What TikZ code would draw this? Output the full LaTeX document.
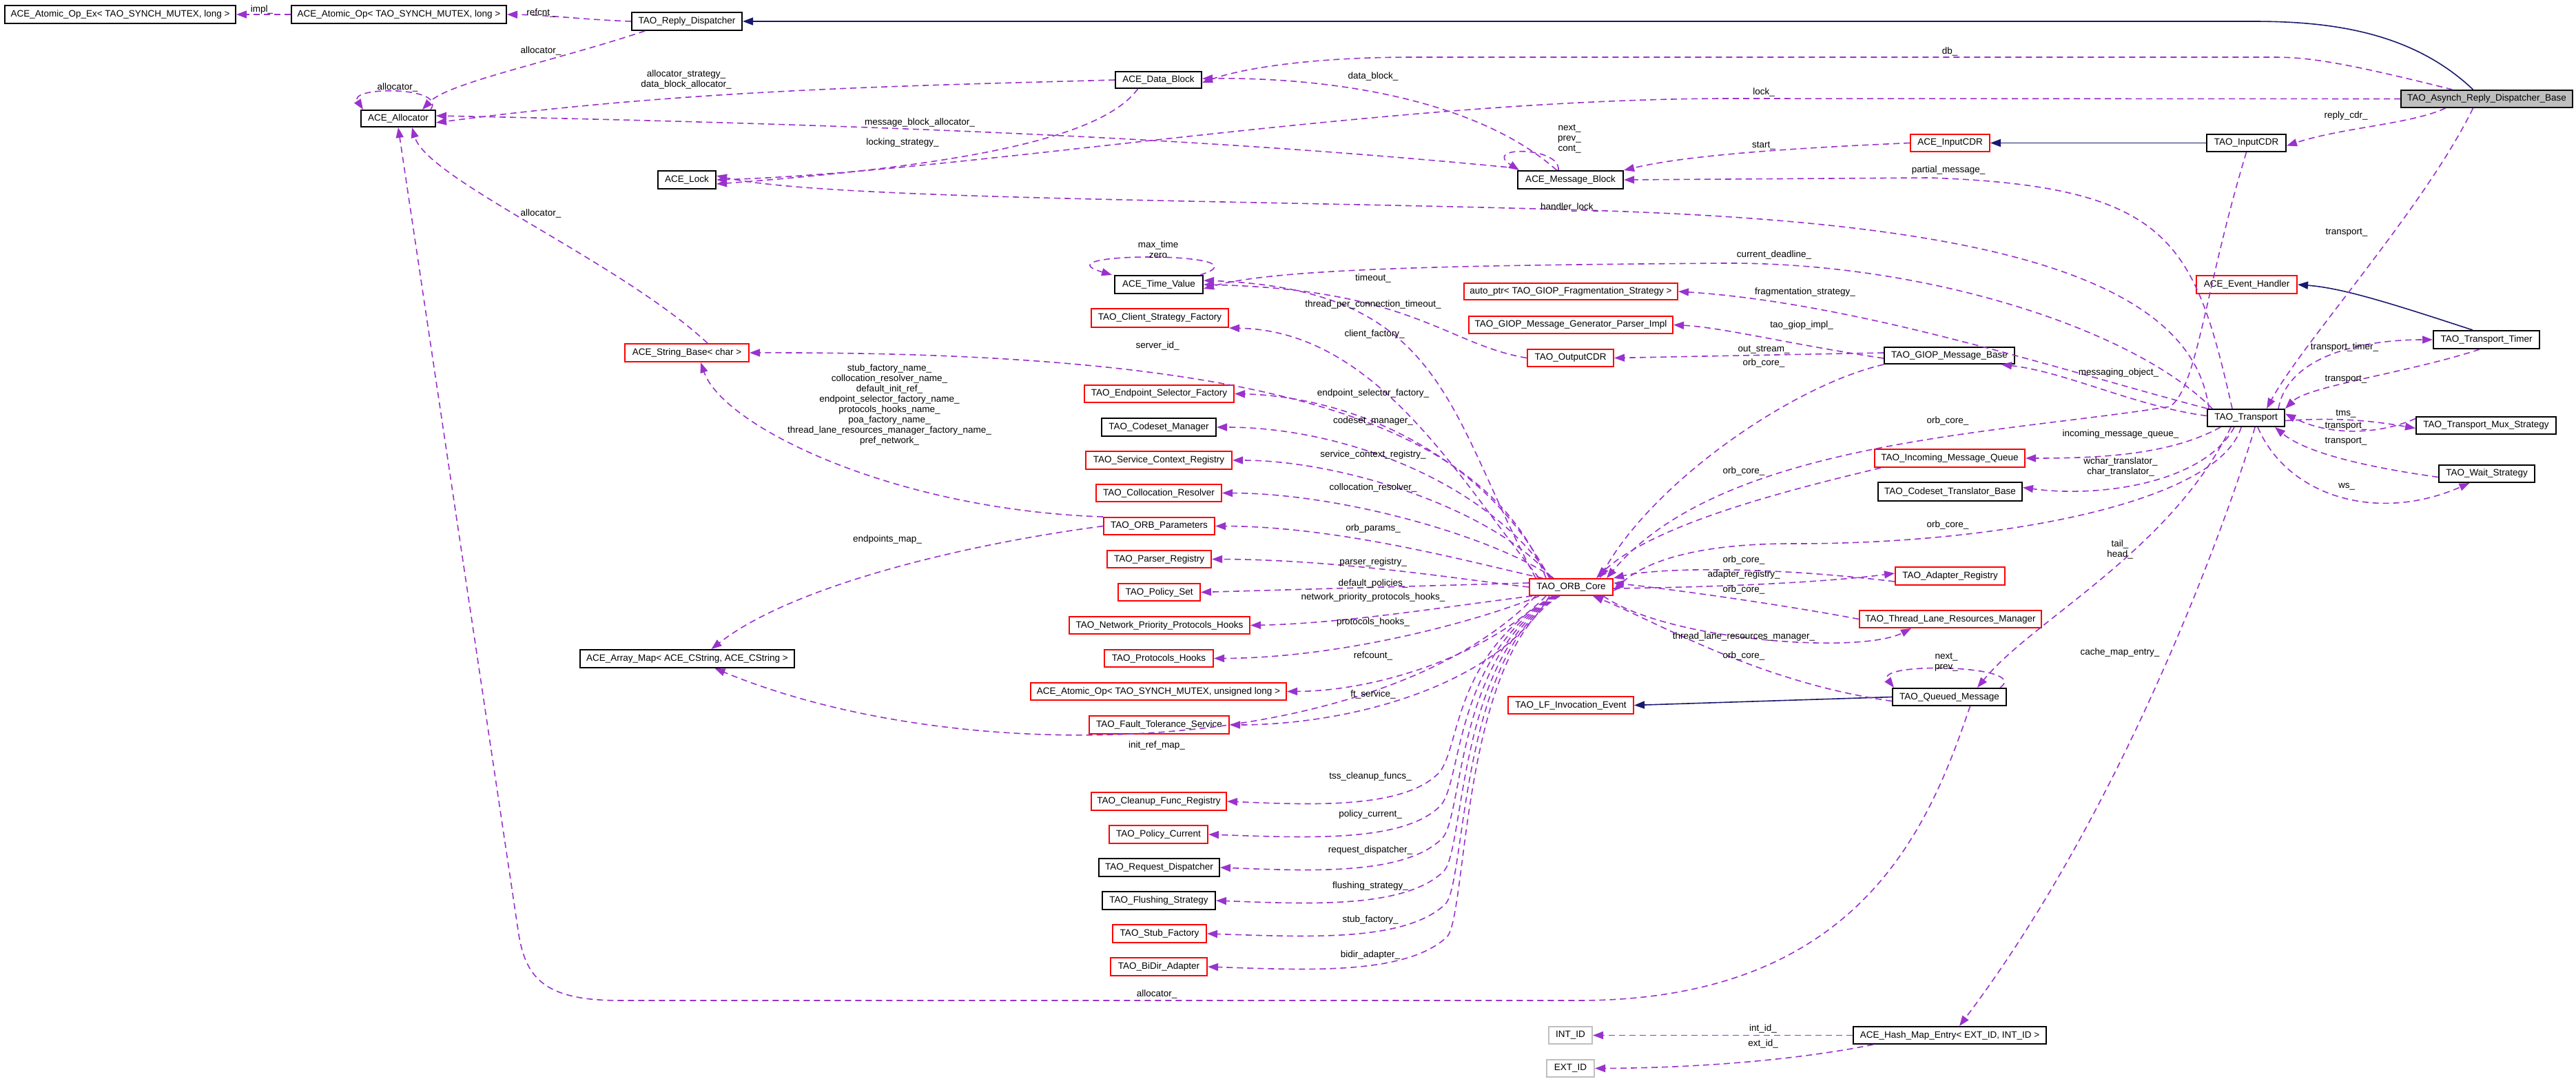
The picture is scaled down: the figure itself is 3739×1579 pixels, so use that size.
\documentclass[tikz,border=0pt]{standalone}
\usepackage{fontspec}
\setmainfont{Liberation Sans}
\usetikzlibrary{arrows.meta}
\definecolor{dorch}{HTML}{9A32CD}
\definecolor{navy}{HTML}{191970}
\definecolor{gbox}{HTML}{BFBFBF}
\newcommand{\ff}{\fontsize{13.5}{15}\selectfont}
\newcommand{\bx}[7]{\node[#1, minimum width={(#5-#3)*1pt}, minimum height={(#6-#4)*1pt}] (#2) at ({(#3+#5)/2},{(#4+#6)/2}) {#7};}
\newcommand{\lb}[4]{\node[lbl] (#1) at (#2,#3) {#4};}
\tikzset{
 cls/.style={draw=black, line width=2pt, inner sep=0pt, font=\ff},
 rcls/.style={cls, draw=red},
 gcls/.style={cls, draw=gbox},
 hcls/.style={cls, fill=gbox},
 lbl/.style={font=\ff, inner sep=0pt, align=center},
 mem/.style={draw=dorch, line width=1.6pt, dash pattern=on 9pt off 6pt, -{Triangle[length=15pt,width=11pt]}},
 inh/.style={draw=navy, line width=1.6pt, -{Triangle[length=15pt,width=11pt]}}
}
\begin{document}
\begin{tikzpicture}[x=1pt,y=-1pt]
\useasboundingbox (0,0) rectangle (3739,1579);
% boxes
\bx{cls}{ope}{7}{8}{342}{34}{ACE\_Atomic\_Op\_Ex< TAO\_SYNCH\_MUTEX, long >}
\bx{cls}{aop}{423}{8}{735}{34}{ACE\_Atomic\_Op< TAO\_SYNCH\_MUTEX, long >}
\bx{cls}{rd}{917}{18}{1077}{44}{TAO\_Reply\_Dispatcher}
\bx{cls}{alloc}{524}{160}{632}{184}{ACE\_Allocator}
\bx{cls}{lock}{955}{248}{1039}{274}{ACE\_Lock}
\bx{rcls}{sb}{907}{499}{1087}{525}{ACE\_String\_Base< char >}
\bx{cls}{db}{1619}{104}{1744}{128}{ACE\_Data\_Block}
\bx{cls}{mb}{2203}{248}{2356}{274}{ACE\_Message\_Block}
\bx{cls}{tv}{1618}{400}{1746}{426}{ACE\_Time\_Value}
\bx{rcls}{csf}{1584}{448}{1783}{475}{TAO\_Client\_Strategy\_Factory}
\bx{rcls}{ap}{2125}{411}{2435}{435}{auto\_ptr< TAO\_GIOP\_Fragmentation\_Strategy >}
\bx{rcls}{mgpi}{2132}{459}{2428}{484}{TAO\_GIOP\_Message\_Generator\_Parser\_Impl}
\bx{rcls}{ocdr}{2217}{507}{2342}{532}{TAO\_OutputCDR}
\bx{hcls}{arb}{3485}{131}{3734}{156}{TAO\_Asynch\_Reply\_Dispatcher\_Base}
\bx{rcls}{aicdr}{2773}{195}{2888}{220}{ACE\_InputCDR}
\bx{cls}{ticdr}{3203}{195}{3318}{220}{TAO\_InputCDR}
\bx{rcls}{eh}{3188}{400}{3334}{426}{ACE\_Event\_Handler}
\bx{cls}{tt}{3532}{480}{3686}{506}{TAO\_Transport\_Timer}
\bx{cls}{gmb}{2735}{504}{2924}{528}{TAO\_GIOP\_Message\_Base}
\bx{cls}{tr}{3204}{594}{3316}{619}{TAO\_Transport}
\bx{cls}{mux}{3507}{605}{3710}{630}{TAO\_Transport\_Mux\_Strategy}
\bx{rcls}{imq}{2721}{652}{2939}{678}{TAO\_Incoming\_Message\_Queue}
\bx{cls}{ctb}{2726}{700}{2935}{727}{TAO\_Codeset\_Translator\_Base}
\bx{cls}{ws}{3540}{675}{3679}{700}{TAO\_Wait\_Strategy}
\bx{rcls}{ar}{2751}{823}{2910}{849}{TAO\_Adapter\_Registry}
\bx{rcls}{tlrm}{2699}{886}{2963}{911}{TAO\_Thread\_Lane\_Resources\_Manager}
\bx{cls}{qm}{2747}{999}{2912}{1024}{TAO\_Queued\_Message}
\bx{rcls}{esf}{1574}{559}{1791}{584}{TAO\_Endpoint\_Selector\_Factory}
\bx{cls}{cm}{1599}{607}{1765}{633}{TAO\_Codeset\_Manager}
\bx{rcls}{scr}{1576}{655}{1788}{681}{TAO\_Service\_Context\_Registry}
\bx{rcls}{cr}{1591}{703}{1773}{728}{TAO\_Collocation\_Resolver}
\bx{rcls}{op}{1602}{751}{1763}{776}{TAO\_ORB\_Parameters}
\bx{rcls}{pr}{1607}{799}{1758}{824}{TAO\_Parser\_Registry}
\bx{rcls}{ps}{1623}{847}{1742}{872}{TAO\_Policy\_Set}
\bx{rcls}{npph}{1552}{895}{1814}{920}{TAO\_Network\_Priority\_Protocols\_Hooks}
\bx{rcls}{ph}{1603}{943}{1761}{968}{TAO\_Protocols\_Hooks}
\bx{rcls}{aoul}{1496}{991}{1867}{1016}{ACE\_Atomic\_Op< TAO\_SYNCH\_MUTEX, unsigned long >}
\bx{rcls}{fts}{1581}{1039}{1784}{1065}{TAO\_Fault\_Tolerance\_Service}
\bx{rcls}{orb}{2220}{840}{2341}{864}{TAO\_ORB\_Core}
\bx{rcls}{lf}{2189}{1011}{2371}{1036}{TAO\_LF\_Invocation\_Event}
\bx{cls}{am}{842}{943}{1153}{969}{ACE\_Array\_Map< ACE\_CString, ACE\_CString >}
\bx{rcls}{cfr}{1584}{1150}{1780}{1176}{TAO\_Cleanup\_Func\_Registry}
\bx{rcls}{pc}{1610}{1198}{1753}{1224}{TAO\_Policy\_Current}
\bx{cls}{rqd}{1595}{1246}{1770}{1272}{TAO\_Request\_Dispatcher}
\bx{cls}{fs}{1600}{1294}{1764}{1320}{TAO\_Flushing\_Strategy}
\bx{rcls}{sf}{1615}{1342}{1751}{1368}{TAO\_Stub\_Factory}
\bx{rcls}{bda}{1612}{1390}{1752}{1416}{TAO\_BiDir\_Adapter}
\bx{gcls}{intid}{2248}{1490}{2311}{1515}{INT\_ID}
\bx{gcls}{extid}{2245}{1538}{2314}{1563}{EXT\_ID}
\bx{cls}{hme}{2690}{1490}{2970}{1515}{ACE\_Hash\_Map\_Entry< EXT\_ID, INT\_ID >}
% inheritance
\draw[inh] ([xshift=-20]arb.north) .. controls (3500,45) and (3380,31) .. (3270,31) -- (rd.east);
\draw[inh] (ticdr.west) -- (aicdr.east);
\draw[inh] ([xshift=-20]tt.north) .. controls (3470,440) and (3400,418) .. (eh.east);
\draw[inh] (qm.west) -- (lf.east);
% members
\draw[mem] (aop.west) -- (ope.east);
\draw[mem] (rd.west) .. controls (840,28) and (800,22) .. (aop.east);
\draw[mem] ([xshift=20]rd.south west) .. controls (800,90) and (650,120) .. ([xshift=-20]alloc.north east);
\draw[mem] ([xshift=-8]alloc.north east) .. controls (650,125) and (505,125) .. ([xshift=4]alloc.north west);
\draw[mem] (db.west) .. controls (1300,125) and (1000,130) .. ([yshift=-6]alloc.east);
\draw[mem] ([yshift=3]mb.north west) .. controls (1900,215) and (1500,185) .. ([yshift=4]alloc.east);
\draw[mem] ([xshift=-30]db.south) .. controls (1600,200) and (1400,240) .. ([yshift=-6]lock.east);
\draw[mem] (arb.west) -- (2500,143) .. controls (2000,145) and (1400,250) .. (lock.east);
\draw[mem] ([xshift=3]tr.north west) .. controls (3180,380) and (2800,320) .. (2300,305) .. controls (1800,290) and (1200,290) .. ([yshift=6]lock.east);
\draw[mem] ([xshift=30]sb.north) .. controls (900,380) and (620,260) .. ([xshift=20]alloc.south);
\draw[mem] ([xshift=30]qm.south) .. controls (2800,1200) and (2700,1452) .. (2290,1452) -- (900,1452) .. controls (790,1452) and (762,1420) .. (752,1350) -- (alloc.south);
\draw[mem] ([xshift=-50]arb.north) .. controls (3400,90) and (3350,83) .. (3300,83) -- (2050,83) .. controls (1900,83) and (1800,100) .. ([yshift=-4]db.east);
\draw[mem] ([xshift=-20]mb.north) .. controls (2150,150) and (1950,112) .. ([yshift=2]db.east);
\draw[mem] ([xshift=60]mb.north west) .. controls (2265,212) and (2150,212) .. ([xshift=3]mb.north west);
\draw[mem] (aicdr.west) .. controls (2600,215) and (2450,225) .. (mb.north east);
\draw[mem] ([xshift=-20]tr.north) .. controls (3185,350) and (3150,270) .. (2800,258) -- (mb.east);
\draw[mem] ([xshift=-60]arb.south) .. controls (3500,180) and (3400,185) .. ([yshift=-4]ticdr.east);
\draw[mem] ([xshift=-20]arb.south) .. controls (3520,300) and (3340,500) .. ([xshift=30]tr.north);
\draw[mem] ([xshift=-5]tv.north east) .. controls (1850,365) and (1500,365) .. ([xshift=-3]tv.north west);
\draw[mem] ([xshift=8]tr.north west) .. controls (3100,480) and (2800,380) .. (2500,382) .. controls (2100,385) and (1850,390) .. ([yshift=-6]tv.east);
\draw[mem] (ocdr.west) .. controls (2100,500) and (2050,420) .. (tv.east);
\draw[mem] ([xshift=10]orb.north west) .. controls (2100,600) and (2100,420) .. ([yshift=6]tv.east);
\draw[mem] ([xshift=15]orb.north west) .. controls (2120,700) and (2000,480) .. (csf.south east);
\draw[mem] ([xshift=1]tr.north west) .. controls (3000,540) and (2700,440) .. (ap.east);
\draw[mem] ([yshift=-4]gmb.west) .. controls (2600,500) and (2500,475) .. (mgpi.east);
\draw[mem] ([yshift=4]gmb.west) -- (ocdr.east);
\draw[mem] (gmb.south west) .. controls (2600,560) and (2400,700) .. ([xshift=-20]orb.north east);
\draw[mem] ([xshift=25]orb.north west) .. controls (2150,600) and (1800,510) .. (sb.east);
\draw[mem] (op.north west) .. controls (1300,740) and (1050,620) .. ([xshift=20]sb.south);
% ORB core upper fan
\draw[mem] ([xshift=30]orb.north west) .. controls (2150,650) and (1950,575) .. (esf.east);
\draw[mem] ([xshift=32]orb.north west) .. controls (2160,700) and (1950,620) .. (cm.east);
\draw[mem] ([xshift=34]orb.north west) .. controls (2170,740) and (1950,668) .. (scr.east);
\draw[mem] ([xshift=36]orb.north west) .. controls (2170,780) and (1950,716) .. (cr.east);
\draw[mem] ([xshift=20]orb.north west) .. controls (2150,820) and (1950,764) .. (op.east);
\draw[mem] (orb.west) .. controls (2150,845) and (1950,812) .. (pr.east);
\draw[mem] ([yshift=6]orb.west) -- (ps.east);
\draw[mem] ([xshift=5]orb.south west) .. controls (2100,880) and (1950,905) .. (npph.east);
\draw[mem] ([xshift=15]orb.south west) .. controls (2150,900) and (1950,955) .. (ph.east);
\draw[mem] ([xshift=25]orb.south west) .. controls (2160,950) and (2000,1003) .. (aoul.east);
\draw[mem] ([xshift=30]orb.south west) .. controls (2170,1000) and (1950,1052) .. (fts.east);
% ORB core lower fan
\draw[mem] ([xshift=35]orb.south west) .. controls (2110,950) and (2120,1080) .. (2090,1120) .. controls (2040,1175) and (1900,1168) .. (cfr.east);
\draw[mem] ([xshift=37]orb.south west) .. controls (2112,950) and (2122,1130) .. (2092,1168) .. controls (2040,1223) and (1900,1216) .. (pc.east);
\draw[mem] ([xshift=39]orb.south west) .. controls (2114,950) and (2124,1180) .. (2094,1216) .. controls (2040,1271) and (1900,1264) .. (rqd.east);
\draw[mem] ([xshift=41]orb.south west) .. controls (2116,950) and (2126,1230) .. (2096,1264) .. controls (2040,1319) and (1900,1312) .. (fs.east);
\draw[mem] ([xshift=43]orb.south west) .. controls (2118,950) and (2128,1280) .. (2098,1312) .. controls (2040,1367) and (1900,1360) .. (sf.east);
\draw[mem] ([xshift=45]orb.south west) .. controls (2120,950) and (2130,1330) .. (2100,1360) .. controls (2040,1415) and (1900,1408) .. (bda.east);
\draw[mem] ([xshift=10]orb.south west) .. controls (2000,1100) and (1400,1120) .. ([xshift=40]am.south);
\draw[mem] (op.west) .. controls (1400,790) and (1150,850) .. ([xshift=35]am.north);
% transport cluster
\draw[mem] ([yshift=3]tr.west) .. controls (3100,590) and (3000,540) .. ([xshift=-20]gmb.south east);
\draw[mem] ([xshift=20]tr.south west) .. controls (3150,660) and (3050,665) .. (imq.east);
\draw[mem] ([xshift=40]tr.south west) .. controls (3200,700) and (3050,723) .. ([yshift=6]ctb.east);
\draw[mem] (ticdr.south) .. controls (3200,420) and (3190,560) .. (3150,590) .. controls (2900,630) and (2500,640) .. ([xshift=-10]orb.north east);
\draw[mem] ([xshift=50]tr.south west) .. controls (3220,730) and (2900,790) .. (2600,789) .. controls (2450,789) and (2380,820) .. ([yshift=-6]orb.east);
\draw[mem] ([xshift=10]imq.south west) .. controls (2600,710) and (2400,760) .. ([xshift=-25]orb.north east);
\draw[mem] ([yshift=-8]ar.west) .. controls (2550,820) and (2400,825) .. (orb.north east);
\draw[mem] ([yshift=-2]orb.east) .. controls (2500,852) and (2650,845) .. ([yshift=4]ar.west);
\draw[mem] (tlrm.west) .. controls (2600,880) and (2450,858) .. ([yshift=6]orb.east);
\draw[mem] ([xshift=-15]orb.south east) .. controls (2420,930) and (2700,950) .. ([xshift=-57]tlrm.south);
\draw[mem] ([yshift=-6]qm.west) .. controls (2550,990) and (2400,900) .. ([xshift=-30]orb.south east);
\draw[mem] ([xshift=35]tr.south west) .. controls (3150,800) and (2950,900) .. ([xshift=-43]qm.north east);
\draw[mem] ([xshift=-10]qm.north east) .. controls (2950,965) and (2720,960) .. ([xshift=3]qm.north west);
\draw[mem] ([xshift=70]tr.south west) .. controls (3250,700) and (3100,1150) .. ([xshift=14]hme.north);
\draw[mem] (hme.west) -- (intid.east);
\draw[mem] ([xshift=30]hme.south west) .. controls (2600,1540) and (2450,1550) .. (extid.east);
\draw[mem] ([yshift=-4]tr.east) .. controls (3400,605) and (3450,612) .. ([yshift=-4]mux.west);
\draw[mem] ([yshift=10]mux.west) .. controls (3450,632) and (3380,632) .. ([yshift=6]tr.east);
\draw[mem] ([yshift=-5]ws.west) .. controls (3450,680) and (3350,660) .. ([xshift=-15]tr.south east);
\draw[mem] ([xshift=-40]tr.south east) .. controls (3320,720) and (3450,760) .. ([xshift=-25]ws.south);
\draw[mem] ([xshift=-10]tr.north east) .. controls (3320,520) and (3420,493) .. (tt.west);
\draw[mem] ([xshift=-10]tt.south) .. controls (3500,540) and (3350,560) .. (tr.north east);
% labels
\lb{l1}{380}{14}{impl\_}
\lb{l2}{785}{19}{refcnt\_}
\lb{l3}{785}{74}{allocator\_}
\lb{l4}{577}{127}{allocator\_}
\lb{l5}{996}{115}{allocator\_strategy\_\\data\_block\_allocator\_}
\lb{l6}{1335}{178}{message\_block\_allocator\_}
\lb{l7}{1310}{207}{locking\_strategy\_}
\lb{l8}{785}{310}{allocator\_}
\lb{l9}{2560}{134}{lock\_}
\lb{l10}{2830}{75}{db\_}
\lb{l11}{1993}{111}{data\_block\_}
\lb{l12}{2278}{201}{next\_\\prev\_\\cont\_}
\lb{l13}{2560}{211}{start\_}
\lb{l14}{2828}{247}{partial\_message\_}
\lb{l15}{3405}{168}{reply\_cdr\_}
\lb{l16}{3406}{338}{transport\_}
\lb{l17}{2278}{301}{handler\_lock\_}
\lb{l18}{1681}{362}{max\_time\\zero}
\lb{l19}{2575}{370}{current\_deadline\_}
\lb{l20}{1993}{404}{timeout\_}
\lb{l21}{1993}{442}{thread\_per\_connection\_timeout\_}
\lb{l22}{1995}{485}{client\_factory\_}
\lb{l23}{1680}{502}{server\_id\_}
\lb{l24}{2620}{424}{fragmentation\_strategy\_}
\lb{l25}{2615}{472}{tao\_giop\_impl\_}
\lb{l26}{2560}{507}{out\_stream\_}
\lb{l27}{2560}{527}{orb\_core\_}
\lb{l28}{1291}{588}{stub\_factory\_name\_\\collocation\_resolver\_name\_\\default\_init\_ref\_\\endpoint\_selector\_factory\_name\_\\protocols\_hooks\_name\_\\poa\_factory\_name\_\\thread\_lane\_resources\_manager\_factory\_name\_\\pref\_network\_}
\lb{l29}{1288}{783}{endpoints\_map\_}
\lb{l30}{3075}{541}{messaging\_object\_}
\lb{l31}{3403}{504}{transport\_timer\_}
\lb{l32}{3405}{551}{transport\_}
\lb{l33}{2827}{611}{orb\_core\_}
\lb{l34}{3405}{600}{tms\_}
\lb{l35}{3405}{619}{transport\_}
\lb{l36}{3405}{641}{transport\_}
\lb{l37}{3078}{630}{incoming\_message\_queue\_}
\lb{l38}{3078}{677}{wchar\_translator\_\\char\_translator\_}
\lb{l39}{3406}{706}{ws\_}
\lb{l40}{2827}{762}{orb\_core\_}
\lb{l41}{3077}{797}{tail\_\\head\_}
\lb{l42}{3077}{947}{cache\_map\_entry\_}
\lb{l43}{2825}{961}{next\_\\prev\_}
\lb{l44}{2531}{684}{orb\_core\_}
\lb{l45}{2531}{813}{orb\_core\_}
\lb{l46}{2531}{834}{adapter\_registry\_}
\lb{l47}{2531}{856}{orb\_core\_}
\lb{l48}{2531}{924}{thread\_lane\_resources\_manager\_}
\lb{l49}{2531}{952}{orb\_core\_}
\lb{l50}{1993}{571}{endpoint\_selector\_factory\_}
\lb{l51}{1993}{611}{codeset\_manager\_}
\lb{l52}{1993}{660}{service\_context\_registry\_}
\lb{l53}{1993}{708}{collocation\_resolver\_}
\lb{l54}{1993}{767}{orb\_params\_}
\lb{l55}{1993}{816}{parser\_registry\_}
\lb{l56}{1993}{847}{default\_policies\_}
\lb{l57}{1993}{867}{network\_priority\_protocols\_hooks\_}
\lb{l58}{1993}{903}{protocols\_hooks\_}
\lb{l59}{1993}{952}{refcount\_}
\lb{l60}{1993}{1008}{ft\_service\_}
\lb{l61}{1989}{1127}{tss\_cleanup\_funcs\_}
\lb{l62}{1989}{1182}{policy\_current\_}
\lb{l63}{1989}{1234}{request\_dispatcher\_}
\lb{l64}{1989}{1286}{flushing\_strategy\_}
\lb{l65}{1989}{1335}{stub\_factory\_}
\lb{l66}{1989}{1386}{bidir\_adapter\_}
\lb{l67}{1679}{1082}{init\_ref\_map\_}
\lb{l68}{1679}{1443}{allocator\_}
\lb{l69}{2559}{1493}{int\_id\_}
\lb{l70}{2559}{1515}{ext\_id\_}
\end{tikzpicture}
\end{document}
